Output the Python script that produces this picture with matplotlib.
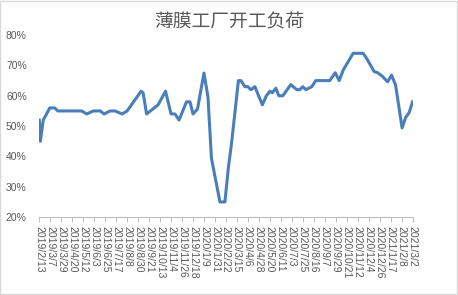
import datetime as dt
import matplotlib
matplotlib.use("Agg")
import matplotlib.pyplot as plt
import matplotlib.dates as mdates
from matplotlib.patches import Rectangle
from matplotlib.ticker import FuncFormatter, FixedLocator

# 数据
dates = ["2019-02-13", "2019-02-15", "2019-02-21", "2019-03-06", "2019-03-16",
         "2019-03-22", "2019-05-09", "2019-05-19", "2019-06-01", "2019-06-15",
         "2019-06-23", "2019-07-05", "2019-07-15", "2019-07-29", "2019-08-08",
         "2019-09-05", "2019-09-09", "2019-09-16", "2019-10-09", "2019-10-24",
         "2019-11-04", "2019-11-12", "2019-11-20", "2019-12-05", "2019-12-12",
         "2019-12-18", "2019-12-27", "2020-01-09", "2020-01-17", "2020-01-24",
         "2020-02-10", "2020-02-20", "2020-02-27", "2020-03-04", "2020-03-18",
         "2020-03-23", "2020-03-31", "2020-04-06", "2020-04-12", "2020-04-20",
         "2020-05-05", "2020-05-13", "2020-05-20", "2020-05-25", "2020-06-01",
         "2020-06-07", "2020-06-15", "2020-07-01", "2020-07-13", "2020-07-19",
         "2020-07-25", "2020-07-31", "2020-08-12", "2020-08-20", "2020-09-17",
         "2020-09-28", "2020-10-06", "2020-10-14", "2020-11-03", "2020-11-23",
         "2020-11-30", "2020-12-15", "2020-12-22", "2020-12-31", "2021-01-11",
         "2021-01-19", "2021-01-27", "2021-02-09", "2021-02-16", "2021-02-23",
         "2021-03-02"]
load = [52, 45, 52, 56, 56,
        55, 55, 54, 55, 55,
        54, 55, 55, 54, 55,
        61.5, 61, 54, 57, 61.5,
        54, 54, 52, 58, 58,
        54, 55.6, 67.5, 59.6, 39.4,
        25, 25, 36.5, 44, 65,
        65, 63, 63, 62, 63,
        57, 60, 61.5, 61, 62.5,
        60, 60, 63.7, 62, 62,
        63, 62, 63, 65, 65,
        67.6, 65, 68.5, 74, 74,
        72.3, 68, 67.6, 66.5, 64.6,
        66.8, 63.5, 49.4, 52.8, 54.4,
        58]
yticks = [20, 30, 40, 50, 60, 70, 80]

title = "薄膜工厂开工负荷"
grey = "#595959"

x = [dt.datetime.strptime(d, "%Y-%m-%d") for d in dates]
start = dt.datetime(2019, 2, 13)
end = dt.datetime(2021, 3, 2)
tick_dates = [start + dt.timedelta(days=22 * i) for i in range(35)]

fig = plt.figure(figsize=(4.58, 2.95), dpi=100)
ax = fig.add_axes([0.0858, 0.264, 0.815, 0.617])

ax.plot(x, load, color="#4a7ebb", linewidth=2.2, solid_joinstyle="round")

ax.set_xlim(start, end)
ax.set_ylim(20, 80)
ax.set_yticks(yticks)
ax.yaxis.set_major_formatter(FuncFormatter(lambda v, p: f"{v:.0f}%"))

ax.xaxis.set_major_locator(FixedLocator(mdates.date2num(tick_dates)))
ax.xaxis.set_major_formatter(FuncFormatter(
    lambda v, p: (lambda d: f"{d.year}/{d.month}/{d.day}")(mdates.num2date(v))))

for s in ["top", "right", "left"]:
    ax.spines[s].set_visible(False)
ax.spines["bottom"].set_color("#bfbfbf")
ax.spines["bottom"].set_linewidth(0.8)

ax.tick_params(axis="y", length=0, pad=9, labelsize=7.5, labelcolor=grey)
ax.tick_params(axis="x", length=3.5, width=0.8, color="#bfbfbf", pad=3,
               labelsize=7.5, labelcolor=grey)
for lab in ax.get_xticklabels():
    lab.set_rotation(-90)
    lab.set_ha("center")
    lab.set_va("top")
for lab in ax.get_xticklabels() + ax.get_yticklabels():
    lab.set_family(["Liberation Sans", "DejaVu Sans"])

fig.text(0.5, 0.925, title, ha="center", va="center", fontsize=13.5,
         color=grey, family=["Noto Sans CJK SC", "DejaVu Sans"])

fig.patches.append(Rectangle((0.001, 0.002), 0.997, 0.995, transform=fig.transFigure,
                             fill=False, edgecolor="#d9d9d9", linewidth=1))

fig.savefig("out.png", dpi=100)
